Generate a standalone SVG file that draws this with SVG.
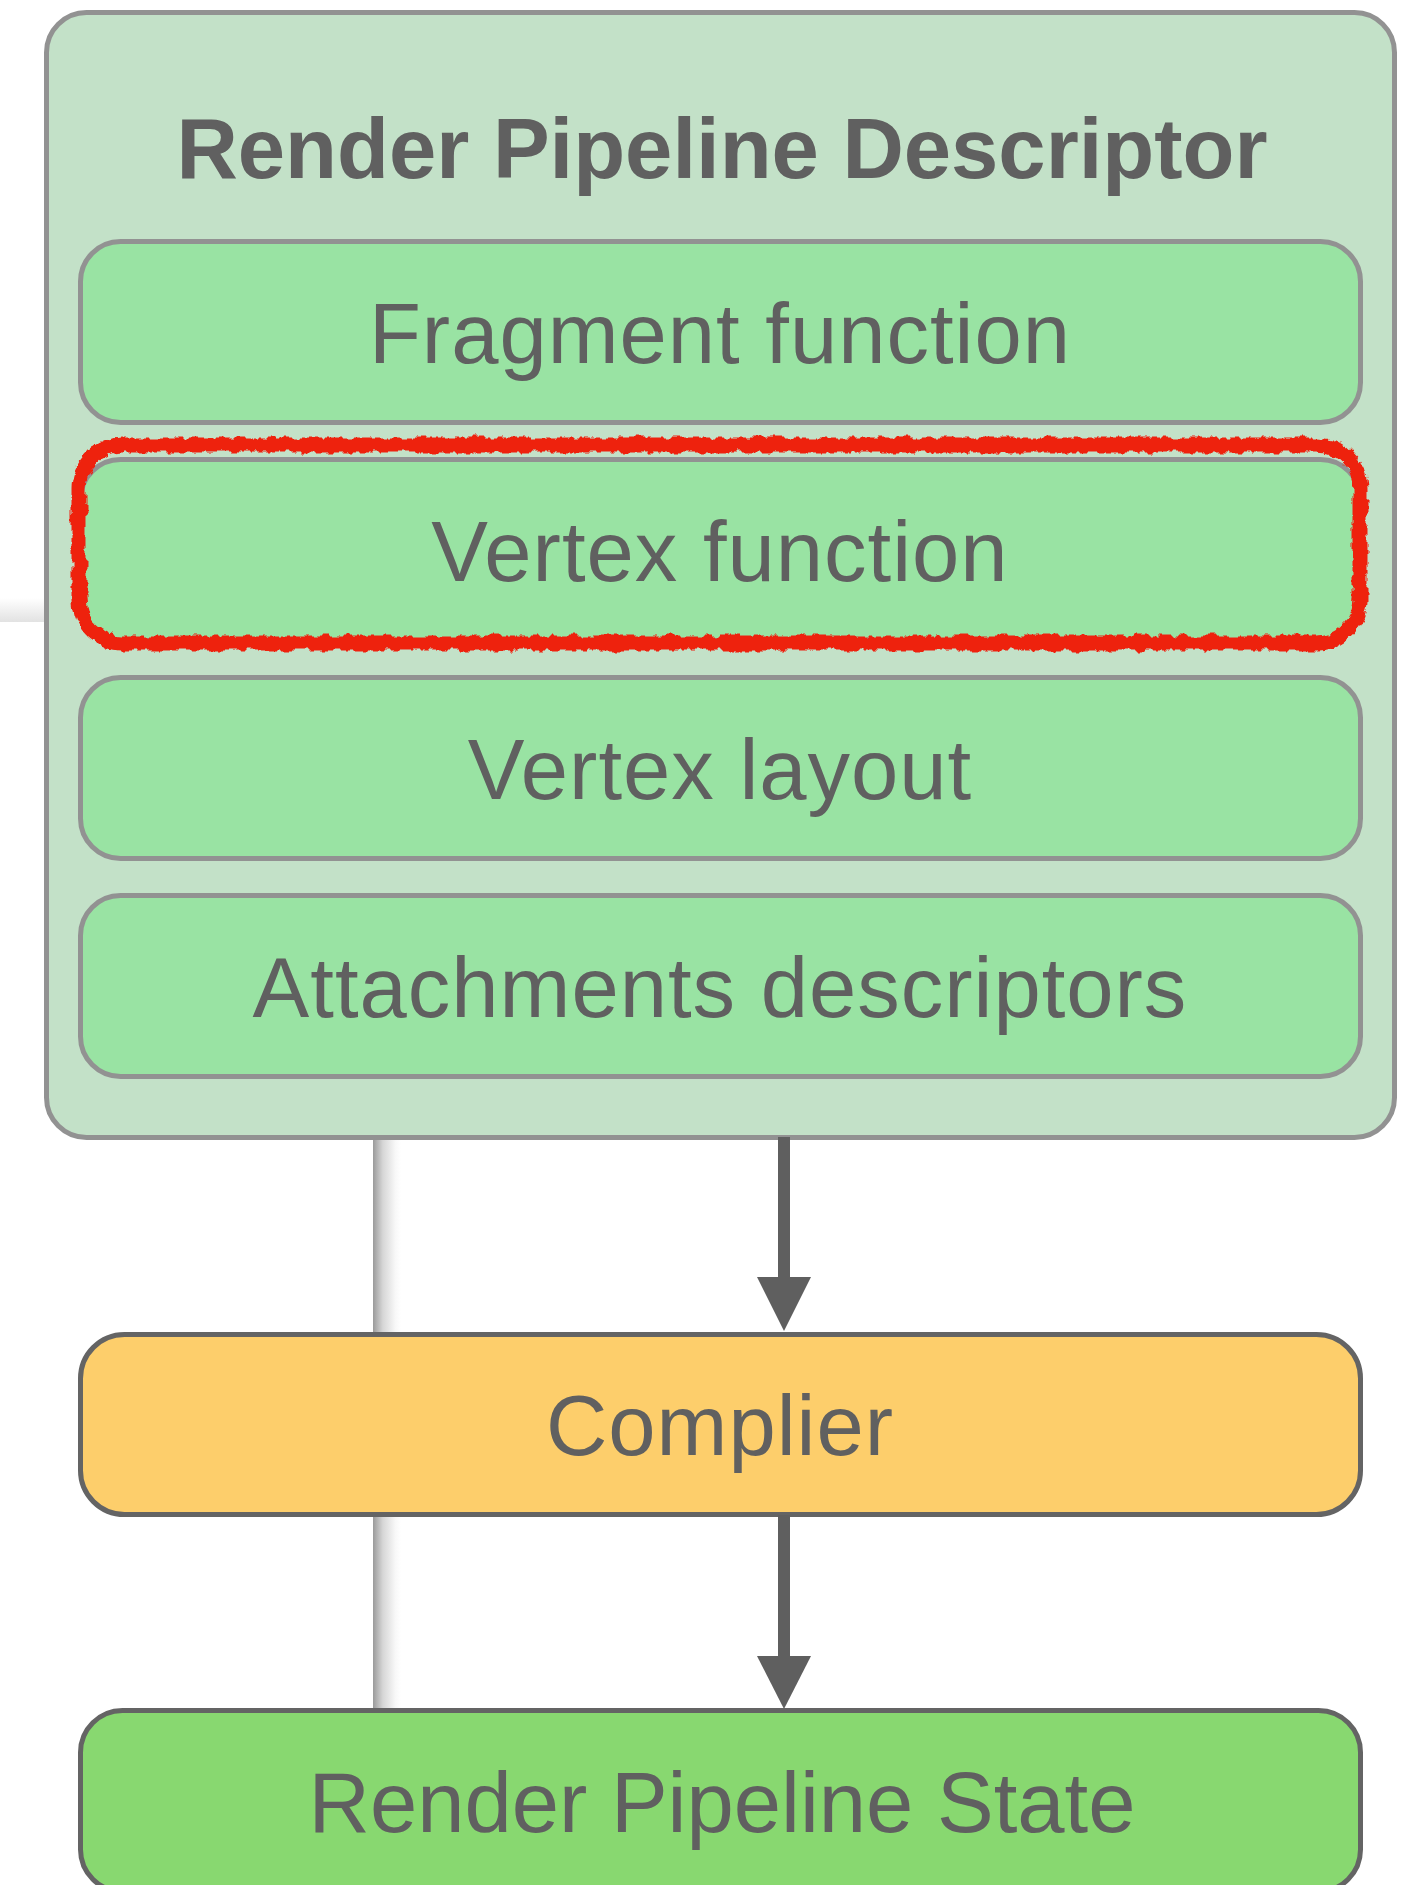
<svg xmlns="http://www.w3.org/2000/svg" width="1419" height="1885" viewBox="0 0 1419 1885">
  <defs>
    <style>
      .label { font-family: "Liberation Sans", Arial, Helvetica, sans-serif; font-size: 85px; fill: #606060; text-anchor: middle; }
      .title { font-weight: bold; }
      .wide { letter-spacing: 1px; }
      .stage { fill: #99E3A3; stroke: #929292; stroke-width: 5; }
      .edge { stroke: #5f5f5f; stroke-width: 12; fill: none; }
      .head { fill: #5f5f5f; }
    </style>
    <linearGradient id="sideShade" x1="0" y1="0" x2="1" y2="0">
      <stop offset="0" stop-color="#9a9a9a"/>
      <stop offset="0.35" stop-color="#d6d6d6"/>
      <stop offset="0.8" stop-color="#f8f8f8"/>
      <stop offset="1" stop-color="#ffffff"/>
    </linearGradient>
    <linearGradient id="topShade" x1="0" y1="0" x2="0" y2="1">
      <stop offset="0" stop-color="#ffffff"/>
      <stop offset="1" stop-color="#e2e2e2"/>
    </linearGradient>
    <filter id="chalk" filterUnits="userSpaceOnUse" x="40" y="400" width="1360" height="290">
      <feTurbulence type="fractalNoise" baseFrequency="0.11 0.07" numOctaves="3" seed="7" result="noise"/>
      <feDisplacementMap in="SourceGraphic" in2="noise" scale="9" xChannelSelector="R" yChannelSelector="G"/>
    </filter>
  </defs>

  <!-- background panel edges -->
  <rect x="0" y="598" width="46" height="24" fill="url(#topShade)"/>
  <rect x="373" y="1137" width="28" height="575" fill="url(#sideShade)"/>

  <!-- descriptor container -->
  <g id="descriptor">
    <rect x="46.5" y="12.5" width="1348" height="1125" rx="40" fill="#C3E1C8" stroke="#929292" stroke-width="5"/>
    <text class="label title" x="722" y="178">Render Pipeline Descriptor</text>
  </g>

  <g id="fragment-function">
    <rect class="stage" x="80.5" y="241.5" width="1280" height="181" rx="40"/>
    <text class="label wide" x="720" y="362.5">Fragment function</text>
  </g>

  <g id="vertex-function">
    <rect class="stage" x="80.5" y="459.5" width="1280" height="181" rx="40"/>
    <text class="label wide" x="720" y="580.5">Vertex function</text>
  </g>

  <g id="vertex-layout">
    <rect class="stage" x="80.5" y="677.5" width="1280" height="181" rx="40"/>
    <text class="label wide" x="720" y="798.5">Vertex layout</text>
  </g>

  <g id="attachments-descriptors">
    <rect class="stage" x="80.5" y="895.5" width="1280" height="181" rx="40"/>
    <text class="label wide" x="720" y="1016.5">Attachments descriptors</text>
  </g>

  <!-- hand-drawn highlight around the vertex function -->
  <g id="highlight">
    <rect x="79" y="445" width="1281" height="198" rx="44" fill="none" stroke="#EE2010" stroke-width="15" filter="url(#chalk)"/>
  </g>

  <g id="compiler">
    <rect x="80.5" y="1334.5" width="1280" height="180" rx="44" fill="#FDCE6B" stroke="#646464" stroke-width="5"/>
    <text class="label wide" x="720" y="1455">Complier</text>
  </g>

  <g id="render-pipeline-state">
    <rect x="80.5" y="1710.5" width="1280" height="181" rx="42" fill="#88D870" stroke="#646464" stroke-width="5"/>
    <text class="label" x="722" y="1831.5">Render Pipeline State</text>
  </g>

  <!-- connectors -->
  <g id="connectors">
    <line class="edge" x1="784" y1="1137" x2="784" y2="1280"/>
    <polygon class="head" points="757,1277 811,1277 784,1331"/>
    <line class="edge" x1="784" y1="1515" x2="784" y2="1659"/>
    <polygon class="head" points="757,1656 811,1656 784,1709"/>
  </g>
</svg>
